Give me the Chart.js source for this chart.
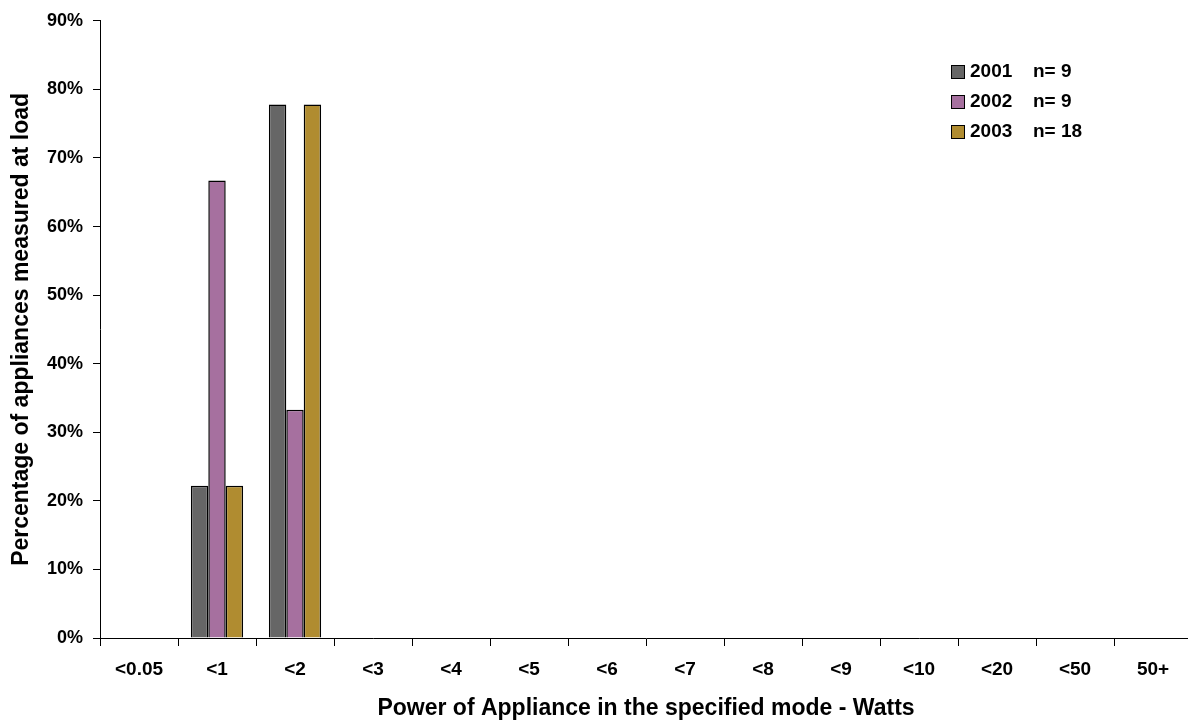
<!DOCTYPE html>
<html>
<head>
<meta charset="utf-8">
<script src="https://cdn.jsdelivr.net/npm/chart.js@4"></script>
<style>
  html, body { margin:0; padding:0; background:#fff; overflow:hidden; }
  #wrap { width:1188px; height:720px; position:relative; overflow:hidden; }
</style>
</head>
<body>
<div id="wrap"><canvas id="chart" width="1200" height="720"></canvas></div>
<script>
const categories = ["<0.05","<1","<2","<3","<4","<5","<6","<7","<8","<9","<10","<20","<50","50+"];
const seriesNames = ["2001   n= 9","2002   n= 9","2003   n= 18"];
const values2001 = [0, 22.2, 77.8, 0,0,0,0,0,0,0,0,0,0,0];
const values2002 = [0, 66.7, 33.3, 0,0,0,0,0,0,0,0,0,0,0];
const values2003 = [0, 22.2, 77.8, 0,0,0,0,0,0,0,0,0,0,0];
const colors = ["#666666","#a6709f","#b08c30"];

const font = "'Liberation Sans', Arial, sans-serif";

// legend drawn inside the plot, top right
const innerLegend = {
    id:"innerLegend",
    afterDraw(chart){
        const ctx = chart.ctx;
        const x = 951, y0 = 72, step = 30;
        ctx.save();
        ctx.font = "bold 19px " + font;
        ctx.textBaseline = "middle";
        chart.data.datasets.forEach((ds,i)=>{
            const y = y0 + i*step;
            ctx.fillStyle = ds.backgroundColor;
            ctx.fillRect(x, y-7, 14, 14);
            ctx.strokeStyle = "#000";
            ctx.lineWidth = 1;
            ctx.strokeRect(x+0.5, y-6.5, 13, 13);
            ctx.fillStyle = "#000";
            const parts = ds.label.split(/\s{2,}/);
            ctx.fillText(parts[0], x+19, y);
            ctx.fillText(parts[1], x+82, y);
        });
        ctx.restore();
    }
};

const ctx = document.getElementById("chart").getContext("2d");
new Chart(ctx, {
    type:"bar",
    data:{
        labels: categories,
        datasets:[values2001, values2002, values2003].map((v,i)=>({
            label: seriesNames[i],
            data: v,
            backgroundColor: colors[i],
            borderColor: "#000",
            borderWidth: 1.5,
            categoryPercentage: 0.67,
            barPercentage: 1.0
        }))
    },
    options:{
        responsive:false,
        animation:false,
        layout:{ padding:{ top:20, right:8, bottom:0, left:0 } },
        plugins:{ legend:{ display:false }, tooltip:{ enabled:false } },
        scales:{
            x:{
                offset:true,
                border:{ color:"#000", width:1 },
                grid:{ display:true, drawOnChartArea:false, drawTicks:true, tickLength:8, color:"#000", offset:true },
                ticks:{ color:"#000", font:{ family:font, size:19, weight:"bold" }, padding:12, maxRotation:0 },
                title:{ display:true, text:"Power of Appliance in the specified mode - Watts", color:"#000",
                        font:{ family:font, size:23, weight:"bold" }, padding:{ top:10, bottom:-2 } },
                afterFit(s){ s.height = 82; }
            },
            y:{
                min:0, max:90,
                border:{ color:"#000", width:1 },
                grid:{ display:true, drawOnChartArea:false, drawTicks:true, tickLength:7, color:"#000" },
                ticks:{ stepSize:10, color:"#000", font:{ family:font, size:18, weight:"bold" }, padding:10,
                        callback:v=>v+"%" },
                title:{ display:true, text:"Percentage of appliances measured at load", color:"#000",
                        font:{ family:font, size:23, weight:"bold" }, padding:{ bottom:0, top:8 } },
                afterFit(s){ s.width = 100; }
            }
        }
    },
    plugins:[innerLegend]
});
</script>
</body>
</html>
